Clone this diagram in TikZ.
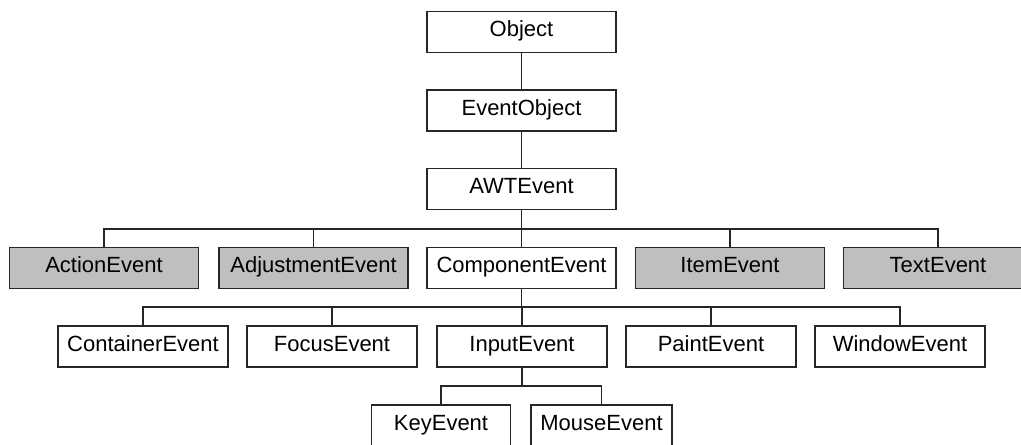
\documentclass[tikz,border=0pt]{standalone}
\usepackage{fontspec}
\setmainfont{Liberation Sans}
\begin{document}
\begin{tikzpicture}[x=0.75pt,y=-0.75pt,
  cls/.style={draw=black!85,line width=1.3pt,fill=white,inner sep=0pt,
    minimum width=#1*0.75pt,minimum height=41*0.75pt,
    text height=0.716em,text depth=0pt,
    font=\fontsize{16.5}{18}\selectfont},
  cls/.default=189,
  grey/.style={fill=black!25},
  link/.style={draw=black!85,line width=1.1pt}]
\useasboundingbox (0,0) rectangle (1021,444);
\clip (0,0) rectangle (1021,444);
% top chain
\node[cls] (obj) at (521.5,32) {Object};
\node[cls] (evo) at (521.5,110.5) {EventObject};
\node[cls] (awt) at (521.5,189) {AWTEvent};
% row 2
\node[cls,grey] (act) at (104,268) {ActionEvent};
\node[cls,grey] (adj) at (313.5,268) {AdjustmentEvent};
\node[cls] (cmp) at (521.5,268) {ComponentEvent};
\node[cls,grey] (itm) at (730,268) {ItemEvent};
\node[cls,grey] (txt) at (938,268) {TextEvent};
% row 3
\node[cls=170] (con) at (143,346.5) {ContainerEvent};
\node[cls=170] (foc) at (332,346.5) {FocusEvent};
\node[cls=170] (inp) at (522,346.5) {InputEvent};
\node[cls=170] (pnt) at (711,346.5) {PaintEvent};
\node[cls=170] (win) at (900,346.5) {WindowEvent};
% row 4
\node[cls=139] (key) at (441,425.5) {KeyEvent};
\node[cls=141] (mou) at (601.5,425.5) {MouseEvent};
% bars
\coordinate (b1) at (0,229);
\coordinate (b2) at (0,307);
\coordinate (b3) at (0,386);
\draw[link] (obj) -- (evo);
\draw[link] (evo) -- (awt);
\foreach \c in {act,adj,cmp,itm,txt}
  \draw[link] (awt.south) -- (awt.south|-b1) -| (\c.north);
\foreach \c in {con,foc,inp,pnt,win}
  \draw[link] (cmp.south) -- (cmp.south|-b2) -| (\c.north);
\foreach \c in {key,mou}
  \draw[link] (inp.south) -- (inp.south|-b3) -| (\c.north);
\end{tikzpicture}
\end{document}
